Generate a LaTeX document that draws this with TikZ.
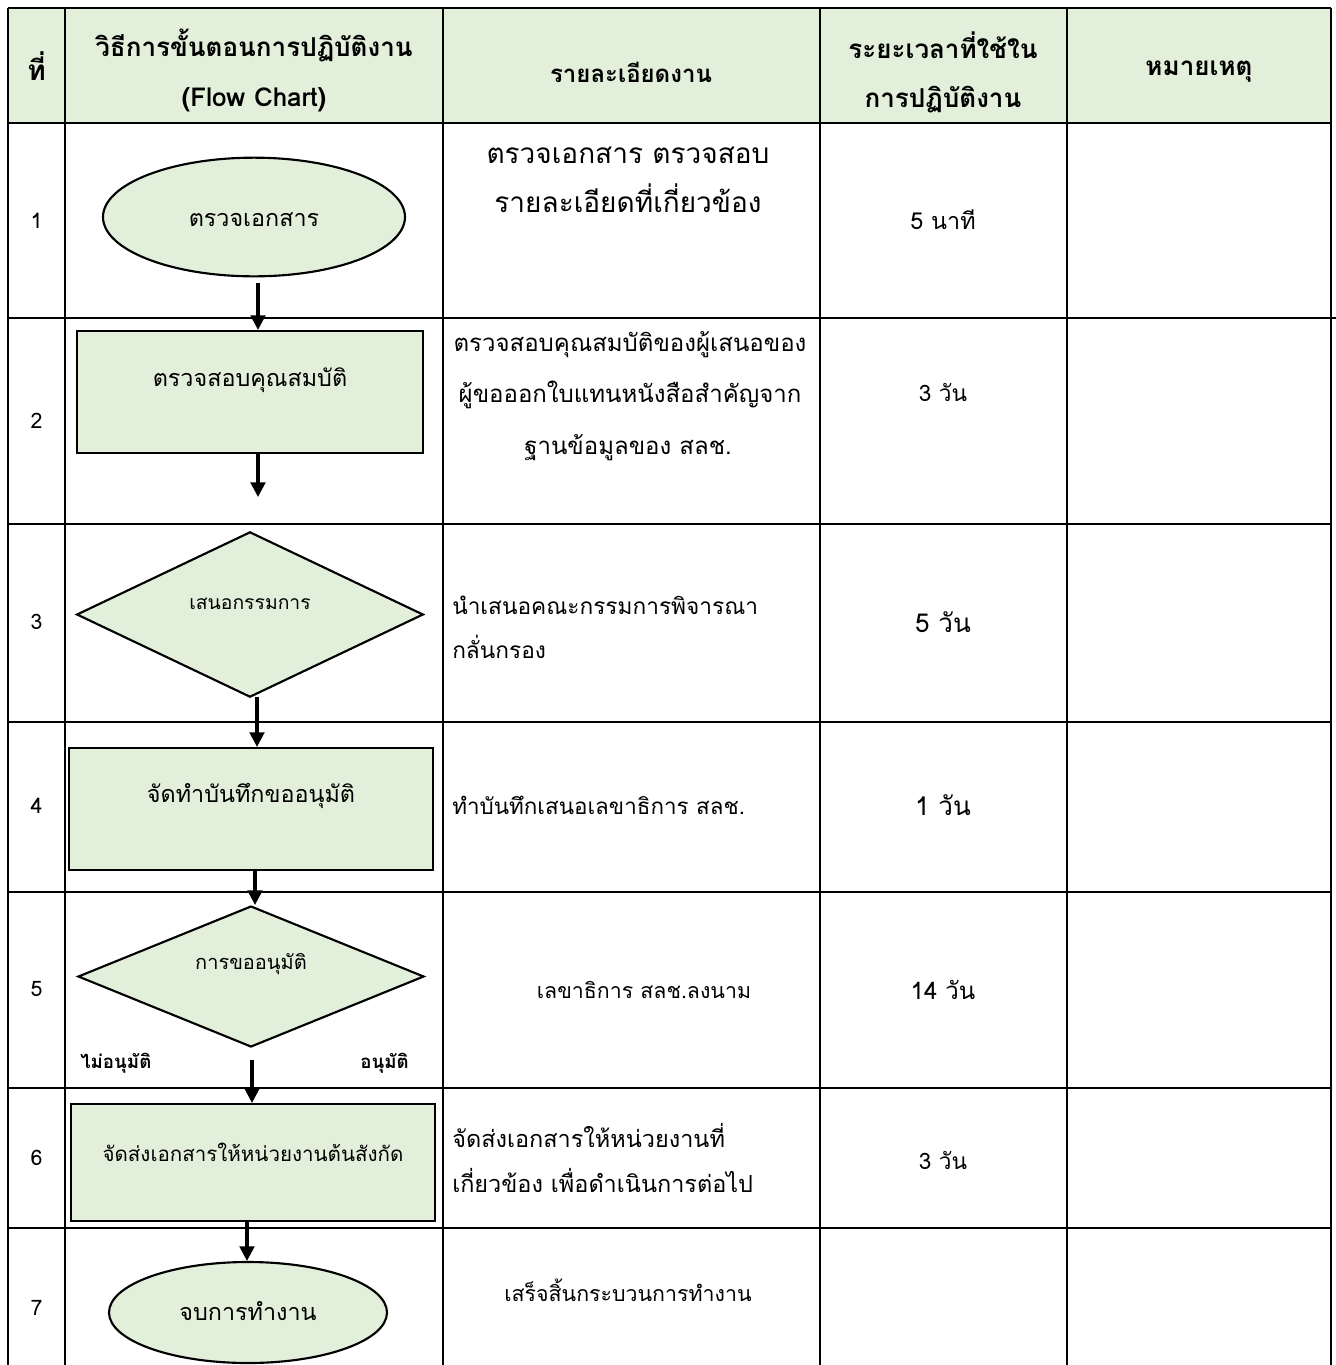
\documentclass[tikz,border=0pt]{standalone}
\usepackage{fontspec}
\setmainfont[Script=Thai]{Loma}
\usetikzlibrary{shapes.geometric,arrows.meta}
\definecolor{hdrgreen}{HTML}{E2EFDA}
\definecolor{shpgreen}{HTML}{E2EFDA}
\newcommand{\fsz}[1]{\fontsize{#1}{#1}\selectfont}
\begin{document}
\begin{tikzpicture}[x=0.75pt,y=-0.75pt,
  tline/.style={line width=1.9pt},
  shp/.style={draw=black,line width=1.6pt,fill=shpgreen,inner sep=0pt},
  flowarrow/.style={line width=2.3pt,-{Triangle[length=11pt,width=11pt]}},
  hdr/.style={font=\fsz{19.5}\bfseries,inner sep=0pt},
  num/.style={font=\fsz{16}},
  desc/.style={inner sep=0pt},
  tim/.style={font=\fsz{17},inner sep=0pt},
  timbig/.style={font=\fsz{19.5},inner sep=0pt},
  ftxt/.style={font=\fsz{17.5},inner sep=0pt},
  fsmall/.style={font=\fsz{15},inner sep=0pt},
  lbl/.style={font=\fsz{14}\bfseries,inner sep=0pt}]
\useasboundingbox (0,0) rectangle (1336,1365);
% header background
\fill[hdrgreen] (8,8) rectangle (1331,123);
% grid
\foreach \yy in {8,123,318,524,722,892,1088,1228}
  \draw[tline] (8,\yy) -- (1331,\yy);
\draw[tline] (1331,318) -- (1336,318);
\foreach \xx in {8,65,443,820,1067,1331}
  \draw[tline] (\xx,8) -- (\xx,1365);
% header texts
\node[hdr,font=\fsz{21}\bfseries] (h1) at (36.5,66) {ที่};
\node[hdr] (h2a) at (254,45) {วิธีการขั้นตอนการปฏิบัติงาน};
\node[hdr] (h2b) at (254,100) {(Flow Chart)};
\node[hdr,font=\fsz{18}\bfseries] (h3) at (631,72) {รายละเอียดงาน};
\node[hdr] (h4a) at (943,45) {ระยะเวลาที่ใช้ใน};
\node[hdr] (h4b) at (943,100) {การปฏิบัติงาน};
\node[hdr] (h5) at (1199,72) {หมายเหตุ};
% row numbers
\node[num] (n1) at (36.5,221) {1};
\node[num] (n2) at (36.5,421) {2};
\node[num] (n3) at (36.5,622) {3};
\node[num] (n4) at (36.5,806) {4};
\node[num] (n5) at (36.5,989) {5};
\node[num] (n6) at (36.5,1158) {6};
\node[num] (n7) at (36.5,1308) {7};
% flow chart shapes
\node[shp,ellipse,minimum width=226.5pt,minimum height=89pt] (e1) at (254,217) {};
\node[ftxt] (t1) at (254,220) {ตรวจเอกสาร};
\node[shp,rectangle,minimum width=259.5pt,minimum height=91.5pt] (r2) at (250,392) {};
\node[ftxt] (t2) at (250,380) {ตรวจสอบคุณสมบัติ};
\node[shp,diamond,minimum width=260pt,minimum height=124pt] (d3) at (250,614.5) {};
\node[fsmall,font=\fsz{14.5}] (t3) at (250,604) {เสนอกรรมการ};
\node[shp,rectangle,minimum width=273pt,minimum height=91.5pt] (r4) at (251,809) {};
\node[ftxt] (t4) at (251,796) {จัดทำบันทึกขออนุมัติ};
\node[shp,diamond,minimum width=259.5pt,minimum height=105.75pt] (d5) at (251,976.5) {};
\node[fsmall] (t5) at (251,964) {การขออนุมัติ};
\node[lbl,anchor=west] (l1) at (80,1063) {ไม่อนุมัติ};
\node[lbl,anchor=east] (l2) at (409,1063) {อนุมัติ};
\node[shp,rectangle,minimum width=273pt,minimum height=87.75pt] (r6) at (253,1162.5) {};
\node[fsmall,font=\fsz{15.4}] (t6) at (253,1152) {จัดส่งเอกสารให้หน่วยงานต้นสังกัด};
\node[shp,ellipse,minimum width=208.5pt,minimum height=75.75pt] (e7) at (248,1312.5) {};
\node[ftxt] (t7) at (248,1311) {จบการทำงาน};
% arrows
\coordinate (a1s) at (258,283);
\draw[flowarrow] (a1s) -- (a1s |- r2.north);
\coordinate (a2e) at (258,497);
\draw[flowarrow] (a2e |- r2.south) -- (a2e);
\coordinate (a3x) at (257,697);
\draw[flowarrow] (a3x) -- (a3x |- r4.north);
\coordinate (a4x) at (255,870);
\draw[flowarrow] (a4x |- r4.south) -- (a4x |- d5.north);
\coordinate (a5s) at (252,1060);
\draw[flowarrow] (a5s) -- (a5s |- r6.north);
\coordinate (a6x) at (247,1221);
\draw[flowarrow] (a6x |- r6.south) -- (a6x |- e7.north);
% descriptions
\node[desc,font=\fsz{21}] (p1a) at (628,155) {ตรวจเอกสาร ตรวจสอบ};
\node[desc,font=\fsz{21}] (p1b) at (628,198) {รายละเอียดที่เกี่ยวข้อง};
\node[desc,font=\fsz{18}] (p2a) at (630,345) {ตรวจสอบคุณสมบัติของผู้เสนอของ};
\node[desc,font=\fsz{18}] (p2b) at (630,395) {ผู้ขอออกใบแทนหนังสือสำคัญจาก};
\node[desc,font=\fsz{18}] (p2c) at (628,448) {ฐานข้อมูลของ สลช.};
\node[desc,font=\fsz{17},anchor=west] (p3a) at (452,605) {นำเสนอคณะกรรมการพิจารณา};
\node[desc,font=\fsz{17},anchor=west] (p3b) at (452,647) {กลั่นกรอง};
\node[desc,font=\fsz{16.8},anchor=west] (p4) at (452,805) {ทำบันทึกเสนอเลขาธิการ สลช.};
\node[desc,font=\fsz{16}] (p5) at (644,990) {เลขาธิการ สลช.ลงนาม};
\node[desc,font=\fsz{17.6},anchor=west] (p6a) at (452,1135) {จัดส่งเอกสารให้หน่วยงานที่};
\node[desc,font=\fsz{17.6},anchor=west] (p6b) at (452,1180) {เกี่ยวข้อง เพื่อดำเนินการต่อไป};
\node[desc,font=\fsz{16}] (p7) at (628,1290) {เสร็จสิ้นกระบวนการทำงาน};
% times
\node[tim,font=\fsz{17.5}] (s1) at (943,220) {5 นาที};
\node[tim] (s2) at (943,392) {3 วัน};
\node[timbig] (s3) at (943,622) {5 วัน};
\node[timbig] (s4) at (943,805) {1 วัน};
\node[tim,font=\fsz{18}] (s5) at (943,990) {14 วัน};
\node[tim] (s6) at (943,1160) {3 วัน};
\end{tikzpicture}
\end{document}
